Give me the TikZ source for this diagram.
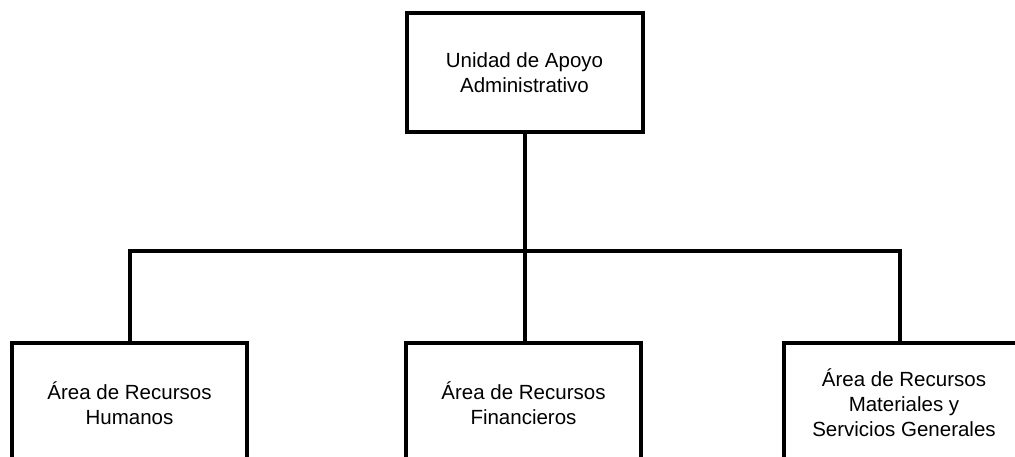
\documentclass[tikz,border=0pt]{standalone}
\usepackage{fontspec}
\setmainfont{Liberation Sans}
\begin{document}
\begin{tikzpicture}[x=1pt,y=-1pt,
  box/.style={draw=black, line width=4pt, fill=white, inner sep=0pt, align=center,
    minimum width=235pt, font=\fontsize{20.5pt}{25pt}\selectfont},
  topbox/.style={box, minimum width=236pt, minimum height=119pt},
  subbox/.style={box, minimum height=120pt},
  link/.style={draw=black, line width=4pt}]
\useasboundingbox (0,0) rectangle (1015,457);
\clip (0,0) rectangle (1015,457);
\node[topbox] (uaa) at (524.5,72.5) {Unidad de Apoyo\\Administrativo};
\node[subbox] (rh) at (129.5,403) {Área de Recursos\\Humanos};
\node[subbox] (rf) at (523.5,403) {Área de Recursos\\Financieros};
\node[subbox, minimum width=240pt] (rm) at (904,403) {Área de Recursos\\Materiales y\\Servicios Generales};
\path (rm.north west) ++(118,0) coordinate (rmtop);
\coordinate (bus) at (524.5,251);
\draw[link] (uaa.south) -- (bus);
\draw[link] (rh.north) |- (bus) -| (rmtop);
\draw[link] (bus) -- (bus |- rf.north);
\end{tikzpicture}
\end{document}
